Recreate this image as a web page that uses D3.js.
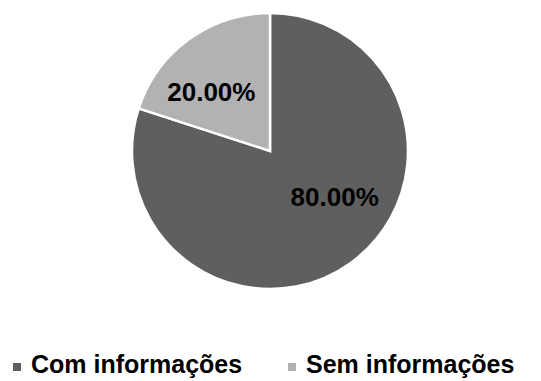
<!DOCTYPE html>
<html><head><meta charset="utf-8">
<script src="https://cdn.jsdelivr.net/npm/d3@7"></script>
<style>body{margin:0;background:#fff}svg{display:block}</style>
</head><body>
<script>
const categories = ["Com informações", "Sem informações"];
const values = [80, 20];
const labels = ["80.00%", "20.00%"];
const colors = ["#5f5f5f", "#b2b2b2"];
const labelNudge = [[16, -21.5], [-10, 8]];

const W = 541, H = 381, cx = 270, cy = 151, r = 138;
const svg = d3.select("body").append("svg").attr("width", W).attr("height", H);
const g = svg.append("g").attr("transform", `translate(${cx},${cy})`);
const pie = d3.pie().sort(null).value(d => d)(values);
const arc = d3.arc().innerRadius(0).outerRadius(r);
g.selectAll("path").data(pie).join("path")
  .attr("d", arc).attr("fill", (d, i) => colors[i])
  .attr("stroke", "#fff").attr("stroke-width", 2.5).attr("stroke-linejoin", "miter");
const la = d3.arc().innerRadius(r * 0.6).outerRadius(r * 0.6);
g.selectAll("text").data(pie).join("text")
  .attr("transform", (d, i) => {
    const c = la.centroid(d);
    return `translate(${c[0] + labelNudge[i][0]},${c[1] + labelNudge[i][1]})`;
  })
  .attr("text-anchor", "middle").attr("dy", "0.36em")
  .attr("font-family", "Liberation Sans, Arial, sans-serif").attr("font-weight", "bold")
  .attr("font-size", 26).attr("fill", "#000")
  .text((d, i) => labels[i]);

const lx = d3.scaleOrdinal().domain(categories).range([13, 288]);
const leg = svg.append("g");
categories.forEach((c, i) => {
  leg.append("rect").attr("x", lx(c)).attr("y", 363).attr("width", 8).attr("height", 8).attr("fill", colors[i]);
  leg.append("text").attr("x", lx(c) + 18).attr("y", 373)
    .attr("font-family", "Liberation Sans, Arial, sans-serif").attr("font-weight", "bold")
    .attr("font-size", 25).attr("fill", "#000").text(c);
});
</script>
</body></html>
